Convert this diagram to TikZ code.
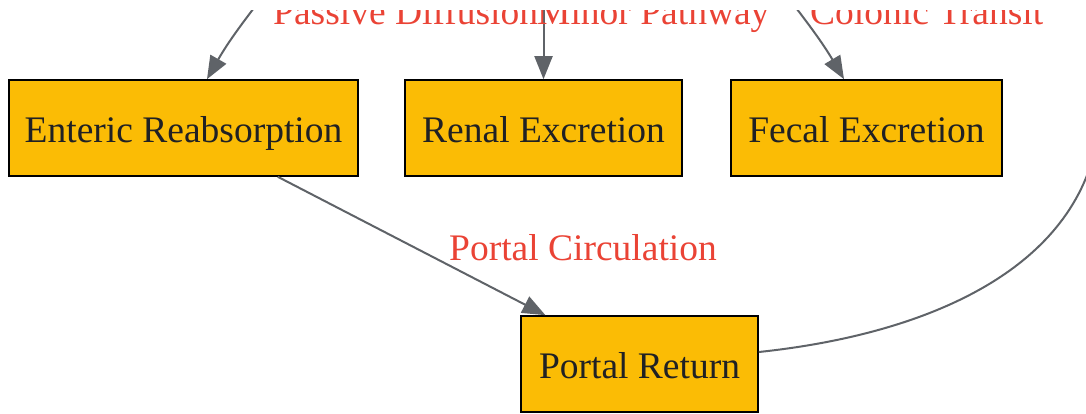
\documentclass[tikz,border=0pt]{standalone}
\usepackage{fontspec}
\setmainfont{Liberation Serif}
\usetikzlibrary{arrows.meta}
\definecolor{boxfill}{HTML}{FBBC05}
\definecolor{boxtext}{HTML}{202124}
\definecolor{edgecol}{HTML}{5F6368}
\definecolor{labcol}{HTML}{EA4335}
\tikzset{
  stagebox/.style={draw=black, line width=1.6pt, fill=boxfill, text=boxtext,
    font=\fontsize{37.5}{44}\selectfont, inner sep=0pt, minimum height=96pt,
    text height=34pt, text depth=6pt},
  flow/.style={draw=edgecol, line width=2pt, -{Triangle[length=23pt,width=18pt]}},
  flowplain/.style={draw=edgecol, line width=2pt},
  edgelab/.style={text=labcol, font=\fontsize{37.5}{44}\selectfont, inner sep=0pt}
}
\begin{document}
\begin{tikzpicture}[x=1pt,y=-1pt]
\useasboundingbox (0,0) rectangle (1086,413);
\clip (0,10) rectangle (1086,413);
\node[stagebox, minimum width=349pt] (en) at (183.5,128) {Enteric Reabsorption};
\node[stagebox, minimum width=277pt] (re) at (543.5,128) {Renal Excretion};
\node[stagebox, minimum width=271pt] (fe) at (866.5,128) {Fecal Excretion};
\node[stagebox, minimum width=237pt] (pr) at (639.5,364) {Portal Return};
\coordinate (s1) at (290,-40);
\coordinate (s2) at (543.5,-40);
\coordinate (s3) at (760,-40);
\coordinate (t5) at (1095,150);
\draw[flow] (s1) .. controls (265,-5) and (235,30) .. ([xshift=23.5pt]en.north);
\draw[flow] (s2) -- (re.north);
\draw[flow] (s3) .. controls (785,-5) and (815,30) .. ([xshift=-22.5pt]fe.north);
\draw[flow] (en) -- (pr);
\draw[flowplain] ([yshift=12pt]pr.east) .. controls (920,335) and (1065,275) .. (t5);
\node[edgelab, anchor=base west] (l1) at (273,24) {Passive Diffusion};
\node[edgelab, anchor=base west] (l2) at (537,24) {Minor Pathway};
\node[edgelab, anchor=base west] (l3) at (810,24) {Colonic Transit};
\node[edgelab, anchor=base west] (l4) at (449,260) {Portal Circulation};
\end{tikzpicture}
\end{document}
